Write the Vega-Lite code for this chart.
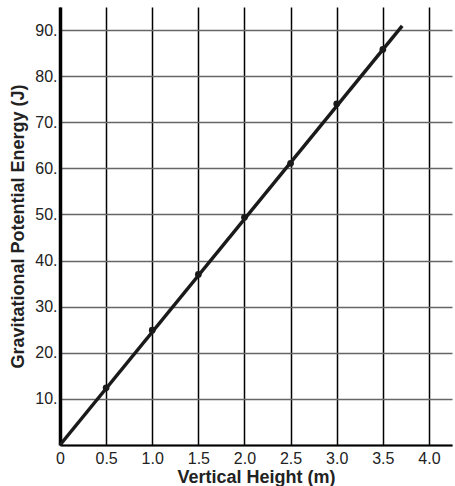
{
  "$schema": "https://vega.github.io/schema/vega-lite/v6.json",
  "width": 392,
  "height": 438,
  "autosize": "none",
  "padding": {"left": 60, "top": 7, "right": 3, "bottom": 41},
  "background": "white",
  "config": {
    "view": {"stroke": null},
    "font": "Liberation Sans",
    "axis": {
      "labelFont": "Liberation Sans",
      "titleFont": "Liberation Sans",
      "labelFontSize": 16,
      "titleFontSize": 18,
      "labelColor": "#222",
      "titleColor": "#222",
      "titleFontWeight": "bold",
      "ticks": false
    }
  },
  "datasets": {
    "points": [
      {"height": 0.5, "energy": 12.4},
      {"height": 1.0, "energy": 24.9},
      {"height": 1.5, "energy": 37.0},
      {"height": 2.0, "energy": 49.4},
      {"height": 2.5, "energy": 61.1},
      {"height": 3.0, "energy": 74.0},
      {"height": 3.5, "energy": 85.8}
    ],
    "fit": [
      {"height": 0.0, "energy": 0.0},
      {"height": 3.71, "energy": 90.9}
    ]
  },
  "layer": [
    {
      "data": {"name": "fit"},
      "mark": {"type": "line", "color": "#1a1a1a", "strokeWidth": 3.5},
      "encoding": {
        "x": {
          "field": "height",
          "type": "quantitative",
          "scale": {"domain": [0, 4.25], "nice": false, "zero": false},
          "axis": {
            "title": "Vertical Height (m)",
            "values": [0, 0.25, 0.5, 0.75, 1, 1.25, 1.5, 1.75, 2, 2.25, 2.5, 2.75, 3, 3.25, 3.5, 3.75, 4, 4.25],
            "labelExpr": "datum.value % 0.5 === 0 ? (datum.value === 0 ? '0' : format(datum.value, '.1f')) : ''",
            "labelFlush": false,
            "labelPadding": 5,
            "titlePadding": 2,
            "grid": true,
            "gridColor": "#000",
            "gridWidth": 1.5,
            "gridOpacity": 1,
            "domainColor": "#000",
            "domainWidth": 2
          }
        },
        "y": {
          "field": "energy",
          "type": "quantitative",
          "scale": {"domain": [0, 95], "nice": false},
          "axis": {
            "title": "Gravitational Potential Energy (J)",
            "values": [0, 5, 10, 15, 20, 25, 30, 35, 40, 45, 50, 55, 60, 65, 70, 75, 80, 85, 90, 95],
            "labelExpr": "datum.value % 10 === 0 && datum.value > 0 ? datum.value + '.' : ''",
            "labelPadding": 3,
            "titlePadding": 7,
            "grid": true,
            "gridColor": "#666",
            "gridWidth": 1.5,
            "gridOpacity": 1,
            "domainColor": "#000",
            "domainWidth": 3.5
          }
        }
      }
    },
    {
      "data": {"name": "points"},
      "mark": {"type": "circle", "color": "#1a1a1a", "size": 45, "opacity": 1},
      "encoding": {
        "x": {"field": "height", "type": "quantitative"},
        "y": {"field": "energy", "type": "quantitative"}
      }
    }
  ]
}
